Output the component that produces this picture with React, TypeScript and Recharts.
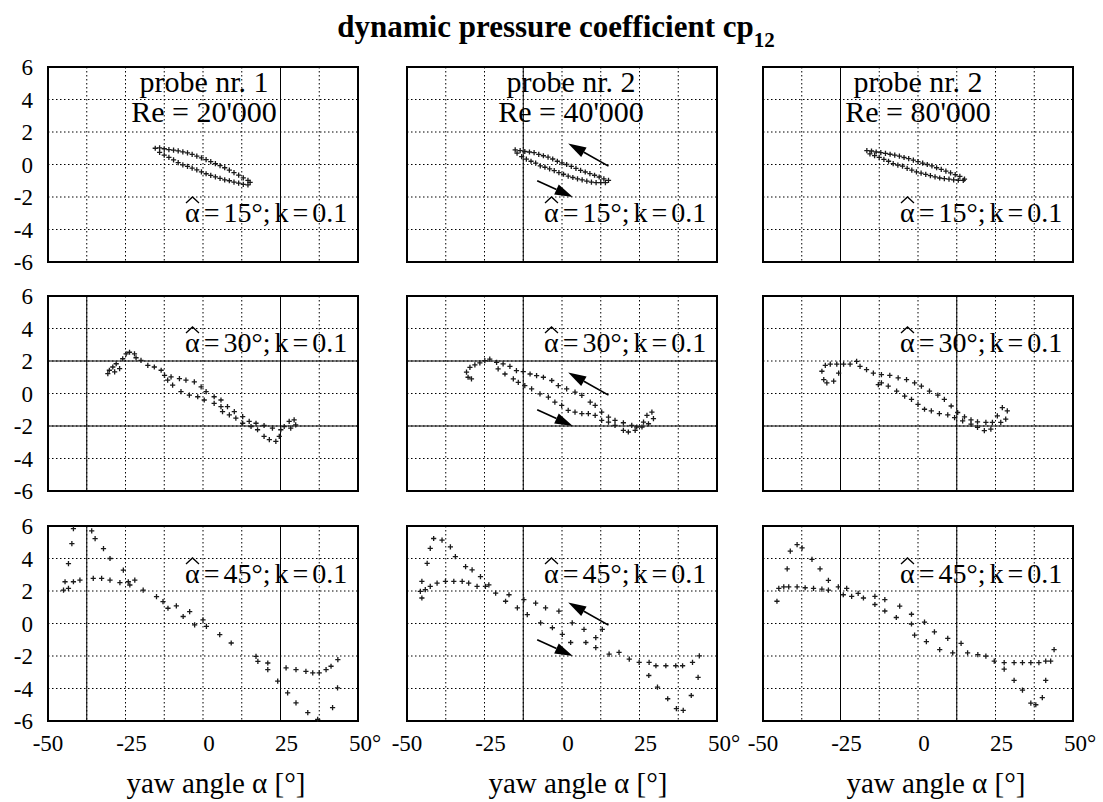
import React from 'react';
import { ScatterChart, Scatter, XAxis, YAxis, CartesianGrid, ReferenceArea, ReferenceLine } from 'recharts';

const xTicks = [-50, -37.5, -25, -12.5, 0, 12.5, 25, 37.5, 50];
const yTicks = [-6, -4, -2, 0, 2, 4, 6];
const probes = ['probe nr. 1', 'probe nr. 2', 'probe nr. 2'];
const reynolds = ["Re = 20'000", "Re = 40'000", "Re = 80'000"];
const amplitudes = ['15°', '30°', '45°'];

// [yaw angle °, cp12]
const a15Re20 = [
  [-15.4, 1.0], [-14, 1.02], [-12.5, 0.97], [-11, 0.92], [-9.5, 0.88], [-8, 0.84], [-6.5, 0.78], [-5, 0.72],
  [-3.5, 0.62], [-2, 0.52], [-0.5, 0.41], [1, 0.3], [2.5, 0.18], [4, 0.06], [5.5, -0.07], [7, -0.2],
  [8.5, -0.35], [10, -0.5], [11.5, -0.65], [13, -0.82], [14.5, -0.98], [15.2, -1.1],
  [14.5, -1.25], [13, -1.22], [11.5, -1.15], [10, -1.08], [8.5, -1.0], [7, -0.94], [5.5, -0.85], [4, -0.76],
  [2.5, -0.67], [1, -0.57], [-0.5, -0.45], [-2, -0.33], [-3.5, -0.22], [-5, -0.12], [-6.5, -0.02], [-8, 0.12],
  [-9.5, 0.28], [-11, 0.44], [-12.5, 0.58], [-14, 0.75],
];
const a15Re40 = [
  [-15.1, 0.9], [-13.5, 0.86], [-12, 0.8], [-10.5, 0.77], [-9, 0.73], [-7.5, 0.62], [-6, 0.54], [-4.5, 0.45],
  [-3, 0.34], [-1.5, 0.2], [0, 0.1], [1.5, 0.0], [3, -0.12], [4.5, -0.24], [6, -0.36], [7.5, -0.46],
  [9, -0.56], [10.5, -0.66], [12, -0.77], [13.5, -0.88], [15, -0.98],
  [14, -1.12], [12.5, -1.12], [11, -1.12], [9.5, -1.08], [8, -1.02], [6.5, -0.95], [5, -0.88], [3.5, -0.8],
  [2, -0.72], [0.5, -0.6], [-1, -0.5], [-2.5, -0.38], [-4, -0.27], [-5.5, -0.17], [-7, -0.08], [-8.5, 0.08],
  [-10, 0.2], [-11.5, 0.33], [-13, 0.48], [-14.5, 0.7],
];
const a15Re80 = [
  [-16.5, 0.86], [-15, 0.83], [-13.5, 0.77], [-12, 0.73], [-10.5, 0.68], [-9, 0.63], [-7.5, 0.58], [-6, 0.51],
  [-4.5, 0.43], [-3, 0.36], [-1.5, 0.27], [0, 0.18], [1.5, 0.09], [3, 0.0], [4.5, -0.09], [6, -0.2],
  [7.5, -0.3], [9, -0.41], [10.5, -0.52], [12, -0.62], [13.5, -0.73], [15, -0.9],
  [14.6, -0.98], [13, -0.97], [11.5, -0.94], [10, -0.9], [8.5, -0.87], [7, -0.83], [5.5, -0.76], [4, -0.69],
  [2.5, -0.61], [1, -0.53], [-0.5, -0.45], [-2, -0.35], [-3.5, -0.24], [-5, -0.1], [-6.5, -0.04], [-8, 0.06],
  [-9.5, 0.2], [-11, 0.32], [-12.5, 0.44], [-14, 0.55], [-15.5, 0.66],
];
const a30Re20 = [
  [-30.7, 1.22], [-30.2, 1.43], [-29.1, 1.63], [-28, 1.83], [-26.9, 1.53], [-28.5, 1.33],
  [-25.9, 2.14], [-24.8, 2.44], [-23.7, 2.54], [-22.1, 2.44], [-21.6, 2.2],
  [-20, 2.04], [-17.8, 1.73], [-15.7, 1.63], [-13.5, 1.43], [-12.4, 1.12], [-10.3, 1.02], [-7.6, 0.92],
  [-5.5, 0.82], [-2.8, 0.72], [-0.6, 0.41], [1, 0.11], [3.6, -0.2], [5.8, -0.4], [7.9, -0.81], [10.1, -1.11],
  [12.8, -1.42], [14.9, -1.72], [17.1, -1.83], [19.7, -1.97], [22.4, -2.13], [25.1, -2.23],
  [26.2, -2.03], [27.8, -1.72], [29.4, -1.62], [29.9, -1.93], [28.3, -2.13],
  [24.6, -2.64], [23.5, -2.94], [21.4, -2.84], [19.7, -2.64], [17.6, -2.23], [15.5, -2.03], [12.8, -1.83],
  [10.6, -1.52], [8.5, -1.32], [6.3, -1.11], [5.8, -0.81], [3.6, -0.61], [0.4, -0.4], [-1.7, -0.2],
  [-4.4, -0.1], [-7.1, 0.11], [-9.8, 0.51], [-11.4, 0.82],
];
const a30Re40 = [
  [-30.8, 1.31], [-30.3, 1.0], [-29.2, 0.9], [-29.7, 1.61], [-28.1, 1.76], [-26.5, 1.88], [-24.9, 2.02], [-23.3, 2.12],
  [-21.1, 1.92], [-19, 1.82], [-16.8, 1.67], [-14.7, 1.41], [-12.5, 1.35], [-10.3, 1.2], [-8.2, 1.1], [-6, 1.0],
  [-3.3, 0.8], [-1.2, 0.49], [1.5, 0.29], [4.2, 0.08], [6.4, -0.12], [9.1, -0.53], [10.7, -0.73], [12.8, -1.14],
  [15, -1.45], [17.1, -1.65], [19.8, -1.8], [22.5, -1.96], [24.1, -2.06],
  [26.3, -1.76], [27.4, -1.35], [29, -1.14], [29.5, -1.55], [27.9, -1.86], [25.8, -2.06],
  [23.6, -2.27], [21.4, -2.37], [19.8, -2.27], [17.1, -1.96], [15, -1.76], [12.8, -1.65], [10.7, -1.35],
  [8.5, -1.24], [6.4, -1.24], [4.2, -1.14], [2, -1.04], [-0.1, -0.73], [-2.3, -0.53], [-4.4, -0.22],
  [-7.1, -0.02], [-9.8, 0.29], [-12, 0.49], [-14.1, 0.69], [-15.7, 0.9], [-18.4, 1.2], [-20.6, 1.51],
];
const a30Re80 = [
  [-31, 1.37], [-30.4, 0.86], [-29.4, 0.65], [-27.2, 0.76], [-25.6, 1.26], [-29.9, 1.73], [-28.3, 1.81],
  [-26.2, 1.81], [-24, 1.81], [-21.9, 1.81], [-19.8, 1.98], [-18.7, 1.67], [-16.6, 1.47], [-14.4, 1.26],
  [-11.8, 1.16], [-9.1, 1.12], [-6.4, 0.96], [-3.7, 0.86], [-1.1, 0.65], [1.1, 0.45], [3.7, 0.15],
  [6.4, -0.1], [8.5, -0.36], [10.7, -0.77], [12.8, -1.17], [15, -1.44], [17.1, -1.62], [19.2, -1.74],
  [21.9, -1.78], [24, -1.78],
  [25.6, -1.38], [27.2, -0.87], [28.8, -1.07], [28.3, -1.58], [26.7, -1.78],
  [23.5, -2.19], [21.4, -2.29], [19.2, -2.09], [17.1, -1.89], [14.4, -1.68], [11.8, -1.48], [9.6, -1.32],
  [6.9, -1.24], [4.3, -1.07], [2.1, -0.97], [0, -0.67], [-2.1, -0.36], [-4.3, -0.16], [-6.9, 0.15],
  [-9.6, 0.45], [-11.8, 0.65], [-12.8, 0.55],
];
const a45Re20 = [
  [-35.9, 5.7], [-41.8, 5.84], [-42.3, 4.92], [-43.4, 3.69], [-44.5, 2.57], [-45, 2.06], [-43.4, 2.16],
  [-41.8, 2.57], [-39.7, 2.67], [-35.4, 2.78], [-32.7, 2.78], [-30, 2.67], [-26.8, 2.51], [-24.1, 2.57],
  [-22, 2.67], [-19.3, 2.06], [-15, 1.65], [-12.9, 1.35], [-11.3, 0.94], [-8.6, 1.08], [-6.4, 0.43],
  [-4.3, 0.73], [-2.7, -0.08], [0, 0.22], [1.1, -0.18], [5.4, -0.69], [9.1, -1.2], [17.1, -2.02],
  [17.7, -2.33], [20.9, -2.43], [20.9, -2.84], [24.1, -3.55], [26.8, -2.73], [27.3, -4.27], [30, -2.84],
  [30, -4.88], [33.2, -2.94], [33.8, -5.49], [35.4, -3.04], [37.5, -3.04], [39.7, -2.84], [41.3, -2.63],
  [43.5, -2.22], [43.4, -3.96], [41.8, -5.18], [37, -5.9], [-34.8, 5.22], [-32.1, 4.61], [-30, 4.0],
  [-25.7, 3.29], [-23.6, 2.37],
];
const a45Re40 = [
  [-45.2, 1.57], [-45.7, 1.98], [-44.1, 2.08], [-42.5, 2.28], [-40.3, 2.48], [-37.6, 2.59], [-34.9, 2.59],
  [-32.2, 2.59], [-30.1, 2.48], [-27.4, 2.28], [-24.7, 2.28], [-21.4, 1.87], [-18.2, 1.37], [-14.4, 0.96],
  [-11.2, 0.55], [-6.9, 0.04], [-3.1, -0.26], [0.1, -0.67], [2.8, -1.17], [7.7, -1.17], [10.9, -1.48],
  [15.2, -1.89], [18.4, -1.78], [21.7, -2.19], [24.9, -2.39], [28, -3.2], [30.8, -3.92], [34.1, -4.63],
  [36.9, -5.24], [39.1, -5.34], [41.7, -4.43], [43.9, -3.31], [44.3, -1.99], [42.1, -2.39], [38.9, -2.6],
  [36.7, -2.6], [33.5, -2.6], [30.3, -2.6], [28.1, -2.39],
  [13, -0.36], [10.9, -0.87], [7.1, -0.36], [3.3, 0.04], [-1, 0.76], [-5.3, 0.96], [-8.5, 1.26],
  [-12.3, 1.47], [-17.1, 1.77], [-23.6, 2.38], [-26.3, 2.89], [-29, 3.3], [-31.1, 3.5], [-34.4, 4.11],
  [-36, 4.72], [-38.7, 5.13], [-41.4, 5.23], [-42.5, 4.62], [-43.5, 3.7], [-45.2, 2.59],
];
const a45Re80 = [
  [-45.5, 1.37], [-44.9, 2.16], [-43.3, 2.26], [-41.7, 2.26], [-39, 2.26], [-36.4, 2.2], [-33.7, 2.16],
  [-31, 2.12], [-28.9, 2.06], [-25.7, 2.26], [-24.1, 1.77], [-21.4, 1.67], [-17.6, 1.57], [-13.9, 1.17],
  [-10.7, 0.77], [-7, 0.37], [-2.1, -0.03], [-1.1, -0.72], [2.7, -1.12], [7, -1.61], [11.2, -1.81],
  [16, -1.81], [19.3, -1.91], [21.9, -2.01], [24.6, -2.31], [27.8, -2.41], [31, -2.41], [33.7, -2.41],
  [36.4, -2.41], [39, -2.41], [41.2, -2.31], [42.8, -2.31], [43.9, -1.61],
  [27.8, -2.81], [31, -3.5], [33.7, -4.1], [36.4, -4.9], [38, -5.0], [40.1, -4.56], [41.2, -3.5],
  [13.9, -1.22], [9.6, -0.92], [5.3, -0.52], [2.1, 0.08], [-2.1, 0.57], [-5.9, 1.07], [-10.7, 1.47],
  [-13.9, 1.67], [-19.3, 1.86], [-23, 2.16], [-28.9, 2.66], [-31.6, 3.36], [-34.2, 3.95], [-37.4, 4.65],
  [-39, 4.85], [-41.2, 4.45], [-42.2, 3.36],
];

// rotation direction arrows (only drawn in the Re = 40'000 column)
const arrowUp = [[15, -0.1], [2, 1.3]];
const arrowDown = [[-8, -1.0], [3.5, -2.0]];

// grid lines that show up solid in the scan
const solidX = [[25], [-12.5], [-25], [-37.5, 25], [-12.5], [-25, 12.5], [-37.5, 25], [-12.5], [-25, 12.5]];
const solidY = [[], [], [], [2, -2], [2, -2], [-2], [], [], []];

const panels = [a15Re20, a15Re40, a15Re80, a30Re20, a30Re40, a30Re80, a45Re20, a45Re40, a45Re80];

const colLeft = [48, 407, 763];
const rowTop = [67, 296, 526];
const W = 310;
const H = 195;
const TOP = 22;
const serif = "'Liberation Serif', 'Times New Roman', serif";

const Plus = (p: any) => (
  <path
    d={`M${p.cx - 2.6},${p.cy}h5.2M${p.cx},${p.cy - 2.6}v5.2`}
    stroke="#1a1a1a"
    strokeWidth={1.3}
    fill="none"
  />
);

const Arrow = (p: any) => {
  const { x1, y1, x2, y2 } = p;
  const dx = x2 - x1;
  const dy = y2 - y1;
  const len = Math.hypot(dx, dy) || 1;
  const ux = dx / len;
  const uy = dy / len;
  const hl = 18;
  const hw = 5.5;
  const bx = x2 - ux * hl;
  const by = y2 - uy * hl;
  return (
    <g>
      <line x1={x1} y1={y1} x2={bx} y2={by} stroke="#000" strokeWidth={1.7} />
      <polygon
        points={`${x2},${y2} ${bx - uy * hw},${by + ux * hw} ${bx + uy * hw},${by - ux * hw}`}
        fill="#000"
      />
    </g>
  );
};

const XTick = (p: any) => {
  const v = p.payload.value;
  if (v % 25 !== 0) return <g />;
  const label = v === 50 ? '50°' : String(v);
  const anchor = v === 50 ? 'start' : 'middle';
  const dx = v === 50 ? -9 : v === -50 ? 0 : 6;
  return (
    <text x={p.x + dx} y={p.y} dy={22} textAnchor={anchor} style={{ fontFamily: serif, fontSize: 23 }} fill="#000">
      {label}
    </text>
  );
};

const YTick = (p: any) => (
  <text x={p.x - 7} y={p.y} dy="0.35em" textAnchor="end" style={{ fontFamily: serif, fontSize: 23 }} fill="#000">
    {p.payload.value}
  </text>
);

const NoTick = () => <g />;

function Panel({ row, col }: { row: number; col: number }) {
  const i = row * 3 + col;
  const data = panels[i].map(([x, y]) => ({ x, y }));
  const showX = row === 2;
  const showY = col === 0;
  return (
    <div style={{ position: 'absolute', left: colLeft[col] - 48, top: rowTop[row] - TOP }}>
      <ScatterChart width={48 + W + 30} height={TOP + H + 80} margin={{ top: TOP, right: 30, bottom: 0, left: 0 }}>
        <CartesianGrid stroke="#000" strokeDasharray="1.5 2.5" strokeWidth={1} />
        <XAxis
          type="number"
          dataKey="x"
          domain={[-50, 50]}
          ticks={xTicks}
          interval={0}
          height={80}
          axisLine={false}
          tickLine={false}
          tick={showX ? XTick : NoTick}
        />
        <YAxis
          type="number"
          dataKey="y"
          domain={[-6, 6]}
          ticks={yTicks}
          interval={0}
          width={48}
          axisLine={false}
          tickLine={false}
          tick={showY ? YTick : NoTick}
        />
        {solidX[i].map((v) => (
          <ReferenceLine key={'sx' + v} x={v} stroke="#000" strokeWidth={1} />
        ))}
        {solidY[i].map((v) => (
          <ReferenceLine key={'sy' + v} y={v} stroke="#000" strokeWidth={1} />
        ))}
        <ReferenceArea x1={-50} x2={50} y1={-6} y2={6} fill="none" fillOpacity={0} stroke="#000" strokeWidth={2} />
        {col === 1 && (
          <ReferenceLine
            segment={[{ x: arrowUp[0][0], y: arrowUp[0][1] }, { x: arrowUp[1][0], y: arrowUp[1][1] }]}
            shape={Arrow}
          />
        )}
        {col === 1 && (
          <ReferenceLine
            segment={[{ x: arrowDown[0][0], y: arrowDown[0][1] }, { x: arrowDown[1][0], y: arrowDown[1][1] }]}
            shape={Arrow}
          />
        )}
        <Scatter data={data} shape={Plus} isAnimationActive={false} />
      </ScatterChart>
    </div>
  );
}

export default function App() {
  const alphaBase = [222, 352, 583];
  const probeCenter = [204, 571, 918];
  const axisCenter = [216, 578, 936];
  return (
    <div style={{ position: 'absolute', left: 0, top: 0, width: 1103, height: 802, background: '#fff', overflow: 'hidden' }}>
      {[0, 1, 2].map((r) => [0, 1, 2].map((c) => <Panel key={r + '-' + c} row={r} col={c} />))}
      <svg
        width={1103}
        height={802}
        style={{ position: 'absolute', left: 0, top: 0, pointerEvents: 'none', fontFamily: serif }}
      >
        <text x={556} y={37} textAnchor="middle" fontSize={31} fontWeight="bold" fill="#000">
          dynamic pressure coefficient cp
          <tspan fontSize={21} dy={10}>12</tspan>
        </text>
        {probes.map((p, c) => (
          <g key={'pr' + c}>
            <text x={probeCenter[c]} y={92} textAnchor="middle" fontSize={30} fill="#000">{p}</text>
            <text x={probeCenter[c]} y={122} textAnchor="middle" fontSize={30} fill="#000">{reynolds[c]}</text>
          </g>
        ))}
        {amplitudes.map((a, r) =>
          colLeft.map((l, c) => {
            const x0 = l + W - 173;
            const y0 = alphaBase[r];
            return (
              <g key={'am' + r + c}>
                <path
                  d={`M${x0 + 1},${y0 - 19}L${x0 + 7.5},${y0 - 25}L${x0 + 14},${y0 - 19}`}
                  stroke="#000"
                  strokeWidth={1.3}
                  fill="none"
                />
                <text x={x0} y={y0} fontSize={28} wordSpacing={-3} fill="#000">
                  {`α = ${a}; k = 0.1`}
                </text>
              </g>
            );
          })
        )}
        {axisCenter.map((x, c) => (
          <text key={'ax' + c} x={x} y={793} textAnchor="middle" fontSize={29} fill="#000">
            yaw angle α [°]
          </text>
        ))}
      </svg>
    </div>
  );
}
